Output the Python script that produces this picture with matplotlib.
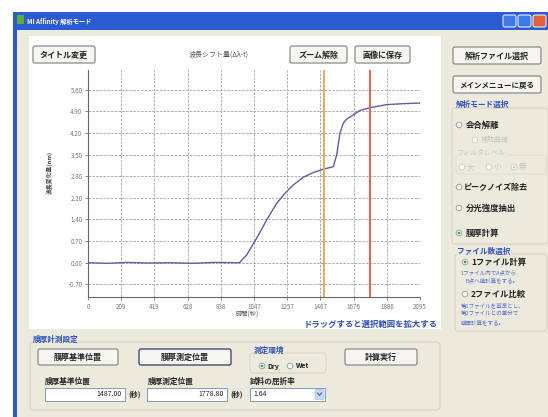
import numpy as np
import matplotlib
matplotlib.use('Agg')
import matplotlib.pyplot as plt
from matplotlib.patches import Rectangle, FancyBboxPatch, Circle

plt.rcParams['font.family'] = ['Noto Sans CJK JP', 'DejaVu Sans']

# wavelength shift vs time (s)
time_s = [0, 120, 250, 380, 520, 660, 800, 955, 1001, 1064, 1127, 1190, 1243, 1296,
          1359, 1422, 1485, 1548, 1569, 1590, 1611, 1632, 1664, 1716, 1780, 1885, 1990, 2095]
shift = [0.00, -0.02, 0.01, -0.01, 0.00, -0.02, 0.01, 0.00, 0.25, 0.79, 1.38, 1.92, 2.25, 2.52,
         2.77, 2.92, 3.03, 3.11, 3.49, 4.19, 4.52, 4.65, 4.75, 4.93, 5.02, 5.12, 5.15, 5.17]

x_ticks = [0, 209.5, 419, 628.5, 838, 1047.5, 1257, 1466.5, 1676, 1885.5, 2095]
x_labels = ['0', '209', '419', '628', '838', '1047', '1257', '1467', '1676', '1886', '2095']
y_ticks = [-0.70, 0.00, 0.70, 1.40, 2.10, 2.80, 3.50, 4.20, 4.90, 5.60]

ref_pos = 1487.00
meas_pos = 1778.80
refractive_index = '1.64'

W, H = 548, 417
fig = plt.figure(figsize=(W / 100, H / 100), dpi=100)
fig.patch.set_facecolor('white')

# window chrome in pixel coordinates
ui = fig.add_axes([0, 0, 1, 1])
ui.set_xlim(0, W)
ui.set_ylim(H, 0)
ui.axis('off')

BEIGE = '#ECEADC'
BLUE_TXT = '#3050C0'
DARK = '#222222'


def button(x0, y0, x1, y1, label, edge='#8a8a8a', fs=5.8):
    ui.add_patch(FancyBboxPatch((x0, y0), x1 - x0, y1 - y0,
                                boxstyle='round,pad=0,rounding_size=2',
                                fc='#F6F5F0', ec=edge, lw=0.9))
    ui.text((x0 + x1) / 2, (y0 + y1) / 2 + 0.5, label, ha='center', va='center',
            fontsize=fs, fontweight='bold', color=DARK)


def radio(x, y, on=False, grey=False):
    ui.add_patch(Circle((x, y), 2.8, fc='white', ec='#9aa4b0' if not grey else '#cfcfcf', lw=0.7))
    if on:
        ui.add_patch(Circle((x, y), 1.4, fc='#3aa040' if not grey else '#cfcfcf', ec='none'))


# frame + title bar
ui.add_patch(Rectangle((13, 12), W - 13, H - 12, fc='#2a5bd0', ec='none'))
ui.add_patch(Rectangle((17, 30), W - 17, H - 30, fc=BEIGE, ec='none'))
ui.add_patch(Rectangle((17, 15), 7, 9, fc='#58b030', ec='none'))
ui.text(27, 21, 'MI Affinity 解析モード', fontsize=4.5, color='white', fontweight='bold', va='center')
for bx, col in [(503, '#3d78e8'), (518, '#3d78e8'), (533, '#e0603a')]:
    ui.add_patch(FancyBboxPatch((bx, 15), 13, 12, boxstyle='round,pad=0,rounding_size=2',
                                fc=col, ec='white', lw=0.7))

# white chart panel
ui.add_patch(Rectangle((29, 36), 412, 293, fc='white', ec='none'))

button(33, 46, 95, 63, 'タイトル変更')
ui.text(219, 55, '波長シフト量(Δλ-t)', fontsize=5, color='#555555', ha='center', va='center')
button(290, 46, 347, 63, 'ズーム解除')
button(355, 46, 410, 63, '画像に保存')
button(453, 47, 541, 64, '解析ファイル選択')
button(453, 76, 541, 93, 'メインメニューに戻る', fs=5.4)

# right side options
ui.add_patch(FancyBboxPatch((452, 108), 96, 136, boxstyle='round,pad=0,rounding_size=3',
                            fc='none', ec='#d6d3c2', lw=0.8))
ui.text(456, 104, '解析モード選択', fontsize=5.5, color=BLUE_TXT, fontweight='bold', va='center')
radio(459, 125)
ui.text(466, 125, '会合解離', fontsize=6, fontweight='bold', va='center', color=DARK)
radio(475, 140, grey=True)
ui.text(481, 140, '補助曲線', fontsize=5, va='center', color='#c4c4c4')
ui.add_patch(FancyBboxPatch((456, 155), 90, 19, boxstyle='round,pad=0,rounding_size=3',
                            fc='none', ec='#e0ddd0', lw=0.7))
ui.text(457, 153, 'フィルタレベル', fontsize=5, va='center', color='#c4c4c4',
        bbox=dict(fc=BEIGE, ec='none', pad=0.3))
radio(462, 167, grey=True)
ui.text(467, 167, '大', fontsize=5.5, va='center', color='#c4c4c4')
radio(489, 167, grey=True)
ui.text(494, 167, '小', fontsize=5.5, va='center', color='#c4c4c4')
radio(514, 167, on=True, grey=True)
ui.text(519, 167, '無', fontsize=5.5, va='center', color='#c4c4c4')
radio(459, 187)
ui.text(464, 187, 'ピークノイズ除去', fontsize=5.8, fontweight='bold', va='center', color=DARK)
radio(459, 208)
ui.text(466, 208, '分光強度抽出', fontsize=6, fontweight='bold', va='center', color=DARK)
radio(459, 233, on=True)
ui.text(466, 233, '膜厚計算', fontsize=6, fontweight='bold', va='center', color=DARK)

ui.add_patch(FancyBboxPatch((455, 254), 92, 77, boxstyle='round,pad=0,rounding_size=3',
                            fc='none', ec='#d6d3c2', lw=0.8))
ui.text(457, 251, 'ファイル数選択', fontsize=5.5, color=BLUE_TXT, fontweight='bold', va='center',
        bbox=dict(fc=BEIGE, ec='none', pad=0.3))
radio(465, 262, on=True)
ui.text(471, 262, '1ファイル計算', fontsize=6, fontweight='bold', va='center', color=DARK)
ui.text(461, 272, '1ファイル内でA点から', fontsize=4, va='center', color='#5570d0')
ui.text(466, 280, 'B点へ膜計算をする。', fontsize=4, va='center', color='#5570d0')
radio(465, 294)
ui.text(471, 294, '2ファイル比較', fontsize=6, fontweight='bold', va='center', color=DARK)
ui.text(461, 305, '第1ファイルを基準とし、', fontsize=4, va='center', color='#5570d0')
ui.text(461, 313, '第2ファイルとの差分で', fontsize=4, va='center', color='#5570d0')
ui.text(461, 322, '膜厚計算をする。', fontsize=4, va='center', color='#5570d0')

# bottom settings
ui.add_patch(FancyBboxPatch((30, 342), 410, 68, boxstyle='round,pad=0,rounding_size=3',
                            fc='none', ec='#d6d3c2', lw=0.8))
ui.text(33, 339, '膜厚計測設定', fontsize=5.5, color=BLUE_TXT, fontweight='bold', va='center',
        bbox=dict(fc=BEIGE, ec='none', pad=0.3))
button(38, 349, 118, 365, '膜厚基準位置')
button(139, 349, 231, 365, '膜厚測定位置', edge='#303a60')
button(345, 349, 417, 365, '計算実行')
ui.add_patch(FancyBboxPatch((250, 353), 76, 20, boxstyle='round,pad=0,rounding_size=3',
                            fc='none', ec='#d6d3c2', lw=0.7))
ui.text(254, 350, '測定環境', fontsize=5.5, color=BLUE_TXT, fontweight='bold', va='center',
        bbox=dict(fc=BEIGE, ec='none', pad=0.3))
radio(262, 366, on=True)
ui.text(267, 366, 'Dry', fontsize=5, fontweight='bold', va='center', color=DARK)
radio(290, 366)
ui.text(296, 366, 'Wet', fontsize=5, fontweight='bold', va='center', color=DARK)

ui.text(45, 381, '膜厚基準位置', fontsize=5.5, fontweight='bold', va='center', color=DARK)
ui.text(148, 381, '膜厚測定位置', fontsize=5.5, fontweight='bold', va='center', color=DARK)
ui.text(250, 381, '試料の屈折率', fontsize=5.5, fontweight='bold', va='center', color=DARK)
for x0, x1, val in [(45, 125, ref_pos), (147, 227, meas_pos)]:
    ui.add_patch(Rectangle((x0, 388), x1 - x0, 13, fc='white', ec='#7f9db9', lw=0.7))
    ui.text(x1 - 3, 394.5, f'{val:.2f}', fontsize=5, ha='right', va='center', color=DARK)
    ui.text(x1 + 3, 394.5, '(秒)', fontsize=5, fontweight='bold', va='center', color=DARK)
ui.add_patch(Rectangle((250, 388), 75, 13, fc='white', ec='#7f9db9', lw=0.7))
ui.text(253, 394.5, refractive_index, fontsize=5, va='center', color=DARK)
ui.add_patch(FancyBboxPatch((315, 389.5), 9, 10, boxstyle='round,pad=0,rounding_size=1.5',
                            fc='#c8d8f8', ec='#a8bce8', lw=0.5))
ui.plot([317.5, 319.5, 321.5], [393, 395.5, 393], color='#4d6185', lw=0.8)

# chart
ax = fig.add_axes([88 / W, 1 - 297 / H, 332 / W, 227 / H])
ax.set_facecolor('white')
ax.plot(time_s, shift, color='#5b5ea6', lw=1.0, zorder=3)
ax.axvline(ref_pos, color='#f0a850', lw=1.4, zorder=4)
ax.axvline(meas_pos, color='#e0684a', lw=1.4, zorder=4)
ax.set_xlim(0, 2095)
ax.set_ylim(-1.11, 6.24)
ax.set_xticks(x_ticks)
ax.set_xticklabels(x_labels)
ax.set_yticks(y_ticks)
ax.set_yticklabels([f'{v:.2f}' for v in y_ticks])
ax.tick_params(labelsize=4.5, colors='#777777', length=2.5, width=0.6, pad=1.5)
ax.grid(True, color='#a0a0a0', lw=0.6, linestyle=(0, (3, 1.5)))
ax.set_axisbelow(True)
for side in ['top', 'right']:
    ax.spines[side].set_visible(False)
for side in ['left', 'bottom']:
    ax.spines[side].set_color('#666666')
    ax.spines[side].set_linewidth(0.8)

ui.text(50, 172, '波長変化量(nm)', fontsize=4.2, rotation=90, ha='center', va='center',
        color='#444444', fontweight='bold')
ui.text(247, 315, '時間(秒)', fontsize=4.5, ha='center', va='center', color='#555555')
ui.text(371, 324, 'ドラッグすると選択範囲を拡大する', fontsize=6, ha='center', va='center',
        color=BLUE_TXT, fontweight='bold')

fig.savefig('out.png', dpi=100)
